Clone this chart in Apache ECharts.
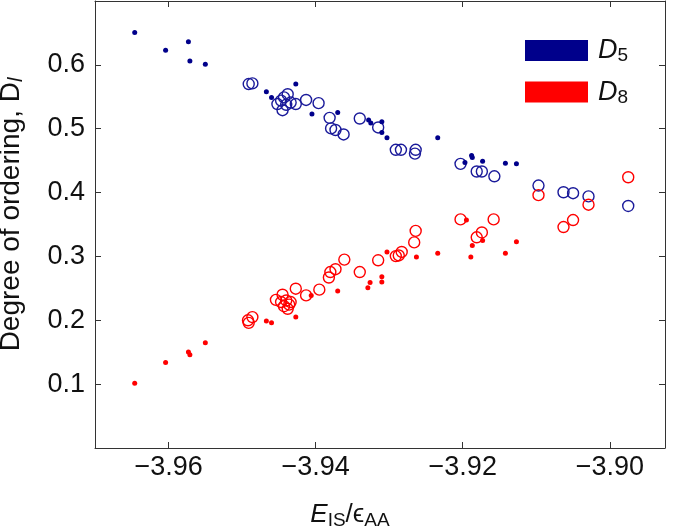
<!DOCTYPE html>
<html><head><meta charset="utf-8">
<script src="https://cdn.jsdelivr.net/npm/echarts@6/dist/echarts.min.js"></script>
<style>html,body{margin:0;padding:0;background:#fff}#c{width:685px;height:531px}</style>
</head><body><div id="c"></div>
<script>
const xTicks = [-3.96, -3.94, -3.92, -3.90];
const yTicks = [0.1, 0.2, 0.3, 0.4, 0.5, 0.6];

const d5Dots = [[-3.9646,0.6505],[-3.9604,0.623],[-3.9573,0.636],[-3.9571,0.606],[-3.955,0.601],[-3.9467,0.558],[-3.946,0.549],[-3.9427,0.570],[-3.9405,0.523],[-3.937,0.5255],[-3.9328,0.5135],[-3.9325,0.509],[-3.931,0.511],[-3.931,0.494],[-3.9303,0.486],[-3.9234,0.486],[-3.9188,0.458],[-3.9187,0.455],[-3.9197,0.447],[-3.9173,0.449],[-3.9142,0.446],[-3.9127,0.445]];
const d5Circles = [[-3.9491,0.570],[-3.9486,0.571],[-3.9452,0.5386],[-3.9445,0.529],[-3.9443,0.549],[-3.9438,0.554],[-3.9434,0.541],[-3.9427,0.5386],[-3.9447,0.544],[-3.944,0.5375],[-3.9413,0.545],[-3.9396,0.540],[-3.9381,0.517],[-3.9379,0.5005],[-3.9373,0.498],[-3.9362,0.491],[-3.934,0.516],[-3.9315,0.502],[-3.9291,0.467],[-3.9284,0.467],[-3.9265,0.461],[-3.9264,0.467],[-3.9203,0.445],[-3.9181,0.433],[-3.9174,0.433],[-3.9157,0.4255],[-3.9097,0.411],[-3.9063,0.4005],[-3.905,0.399],[-3.9029,0.394],[-3.8975,0.379]];
const d8Dots = [[-3.9646,0.1015],[-3.9604,0.134],[-3.9573,0.1505],[-3.9571,0.146],[-3.955,0.165],[-3.9467,0.199],[-3.946,0.196],[-3.9427,0.205],[-3.9406,0.239],[-3.937,0.246],[-3.9329,0.251],[-3.9326,0.259],[-3.931,0.260],[-3.931,0.268],[-3.9303,0.307],[-3.9263,0.299],[-3.9234,0.305],[-3.9195,0.357],[-3.9189,0.299],[-3.9187,0.317],[-3.9173,0.325],[-3.9142,0.305],[-3.9127,0.323]];
const d8Circles = [[-3.9492,0.2],[-3.9491,0.196],[-3.9486,0.205],[-3.9454,0.232],[-3.9447,0.2286],[-3.9445,0.240],[-3.944,0.231],[-3.9434,0.2286],[-3.9443,0.222],[-3.9438,0.218],[-3.9436,0.2245],[-3.9427,0.2495],[-3.9413,0.239],[-3.9395,0.248],[-3.9382,0.267],[-3.938,0.2755],[-3.9373,0.280],[-3.9361,0.295],[-3.934,0.2755],[-3.9315,0.294],[-3.9291,0.3005],[-3.9287,0.3015],[-3.9283,0.307],[-3.9266,0.322],[-3.9264,0.340],[-3.9203,0.358],[-3.9181,0.330],[-3.9174,0.3375],[-3.9158,0.358],[-3.9097,0.396],[-3.9063,0.346],[-3.905,0.357],[-3.9029,0.381],[-3.8975,0.424]];

const BLUE = '#00008b', RED = '#ff0000';
const FONT = 'Liberation Sans';
const AX = {color: '#333', width: 1};
const LBL = {fontFamily: FONT, fontSize: 27, color: '#111'};

const chart = echarts.init(document.getElementById('c'), null, {renderer: 'canvas'});
const xMin = -3.97, xMax = -3.8925, yMin = 0, yMax = 0.7;

function frameAxis(extra) {
  return Object.assign({
    type: 'value',
    axisLine: {show: true, onZero: false, lineStyle: AX},
    splitLine: {show: false},
    axisLabel: {show: false},
  }, extra);
}

chart.setOption({
  animation: false,
  backgroundColor: '#fff',
  grid: {left: 95, top: 1, right: 20, bottom: 83, containLabel: false, outerBoundsMode: 'none'},
  legend: {
    orient: 'vertical', left: 525, top: 37, padding: 0,
    itemWidth: 63, itemHeight: 21, itemGap: 13,
    selectedMode: false,
    data: [
      {name: 'D5', icon: 'rect', itemStyle: {color: BLUE, borderWidth: 0, opacity: 1}},
      {name: 'D8', icon: 'rect', itemStyle: {color: RED, borderWidth: 0, opacity: 1}}
    ],
    formatter: n => '{d|D}{s|' + n.slice(1) + '}',
    textStyle: {
      rich: {
        d: {fontFamily: FONT, fontSize: 27, fontStyle: 'italic', color: '#111', lineHeight: 30, padding: [0,0,0,5]},
        s: {fontFamily: FONT, fontSize: 19, color: '#111', lineHeight: 14, verticalAlign: 'bottom'}
      }
    }
  },
  xAxis: [
    frameAxis({
      min: xMin, max: xMax, position: 'bottom',
      axisTick: {show: true, inside: true, length: 6, lineStyle: AX, customValues: xTicks},
      axisLabel: Object.assign({show: true, margin: 6, customValues: xTicks,
        formatter: v => (v < 0 ? '\u2212' : '') + Math.abs(v).toFixed(2)}, LBL),
      name: '{e|E}{s|IS}{n|/\u03f5}{s|AA}',
      nameLocation: 'middle', nameGap: 52,
      nameTextStyle: {
        padding: [0, 60, 0, 0],
        rich: {
          e: {fontFamily: FONT, fontSize: 26, fontStyle: 'italic', color: '#111', lineHeight: 30},
          n: {fontFamily: FONT, fontSize: 26, color: '#111', lineHeight: 30},
          s: {fontFamily: FONT, fontSize: 19, color: '#111', lineHeight: 14, verticalAlign: 'bottom'}
        }
      }
    }),
    frameAxis({
      min: xMin, max: xMax, position: 'top',
      axisTick: {show: true, inside: true, length: 6, lineStyle: AX, customValues: xTicks}
    })
  ],
  yAxis: [
    frameAxis({
      min: yMin, max: yMax, position: 'left',
      axisTick: {show: true, inside: true, length: 6, lineStyle: AX, customValues: yTicks},
      axisLabel: Object.assign({show: true, margin: 10, customValues: yTicks,
        formatter: v => v.toFixed(1)}, LBL),
      name: '{n|Degree of ordering, D}{s|l}',
      nameLocation: 'middle', nameGap: 69,
      nameTextStyle: {
        padding: [0, 0, 0, 20],
        rich: {
          n: {fontFamily: FONT, fontSize: 28, color: '#111', lineHeight: 30},
          s: {fontFamily: FONT, fontSize: 20, fontStyle: 'italic', color: '#111', lineHeight: 14, verticalAlign: 'bottom'}
        }
      }
    }),
    frameAxis({
      min: yMin, max: yMax, position: 'right',
      axisTick: {show: true, inside: true, length: 6, lineStyle: AX, customValues: yTicks}
    })
  ],
  series: [
    {name: 'D5', type: 'scatter', xAxisIndex: 0, yAxisIndex: 0, data: d5Dots, symbol: 'circle', symbolSize: 5,
     itemStyle: {color: BLUE, opacity: 1}, z: 4},
    {name: 'D8', type: 'scatter', xAxisIndex: 0, yAxisIndex: 0, data: d8Dots, symbol: 'circle', symbolSize: 5,
     itemStyle: {color: RED, opacity: 1}, z: 4},
    {name: 'D5', type: 'scatter', xAxisIndex: 0, yAxisIndex: 0, data: d5Circles, symbol: 'circle', symbolSize: 11,
     itemStyle: {color: 'rgba(0,0,0,0)', borderColor: '#1a1a9a', borderWidth: 1.4, opacity: 1}, z: 3},
    {name: 'D8', type: 'scatter', xAxisIndex: 0, yAxisIndex: 0, data: d8Circles, symbol: 'circle', symbolSize: 11,
     itemStyle: {color: 'rgba(0,0,0,0)', borderColor: RED, borderWidth: 1.4, opacity: 1}, z: 3}
  ]
});
</script>
</body></html>
